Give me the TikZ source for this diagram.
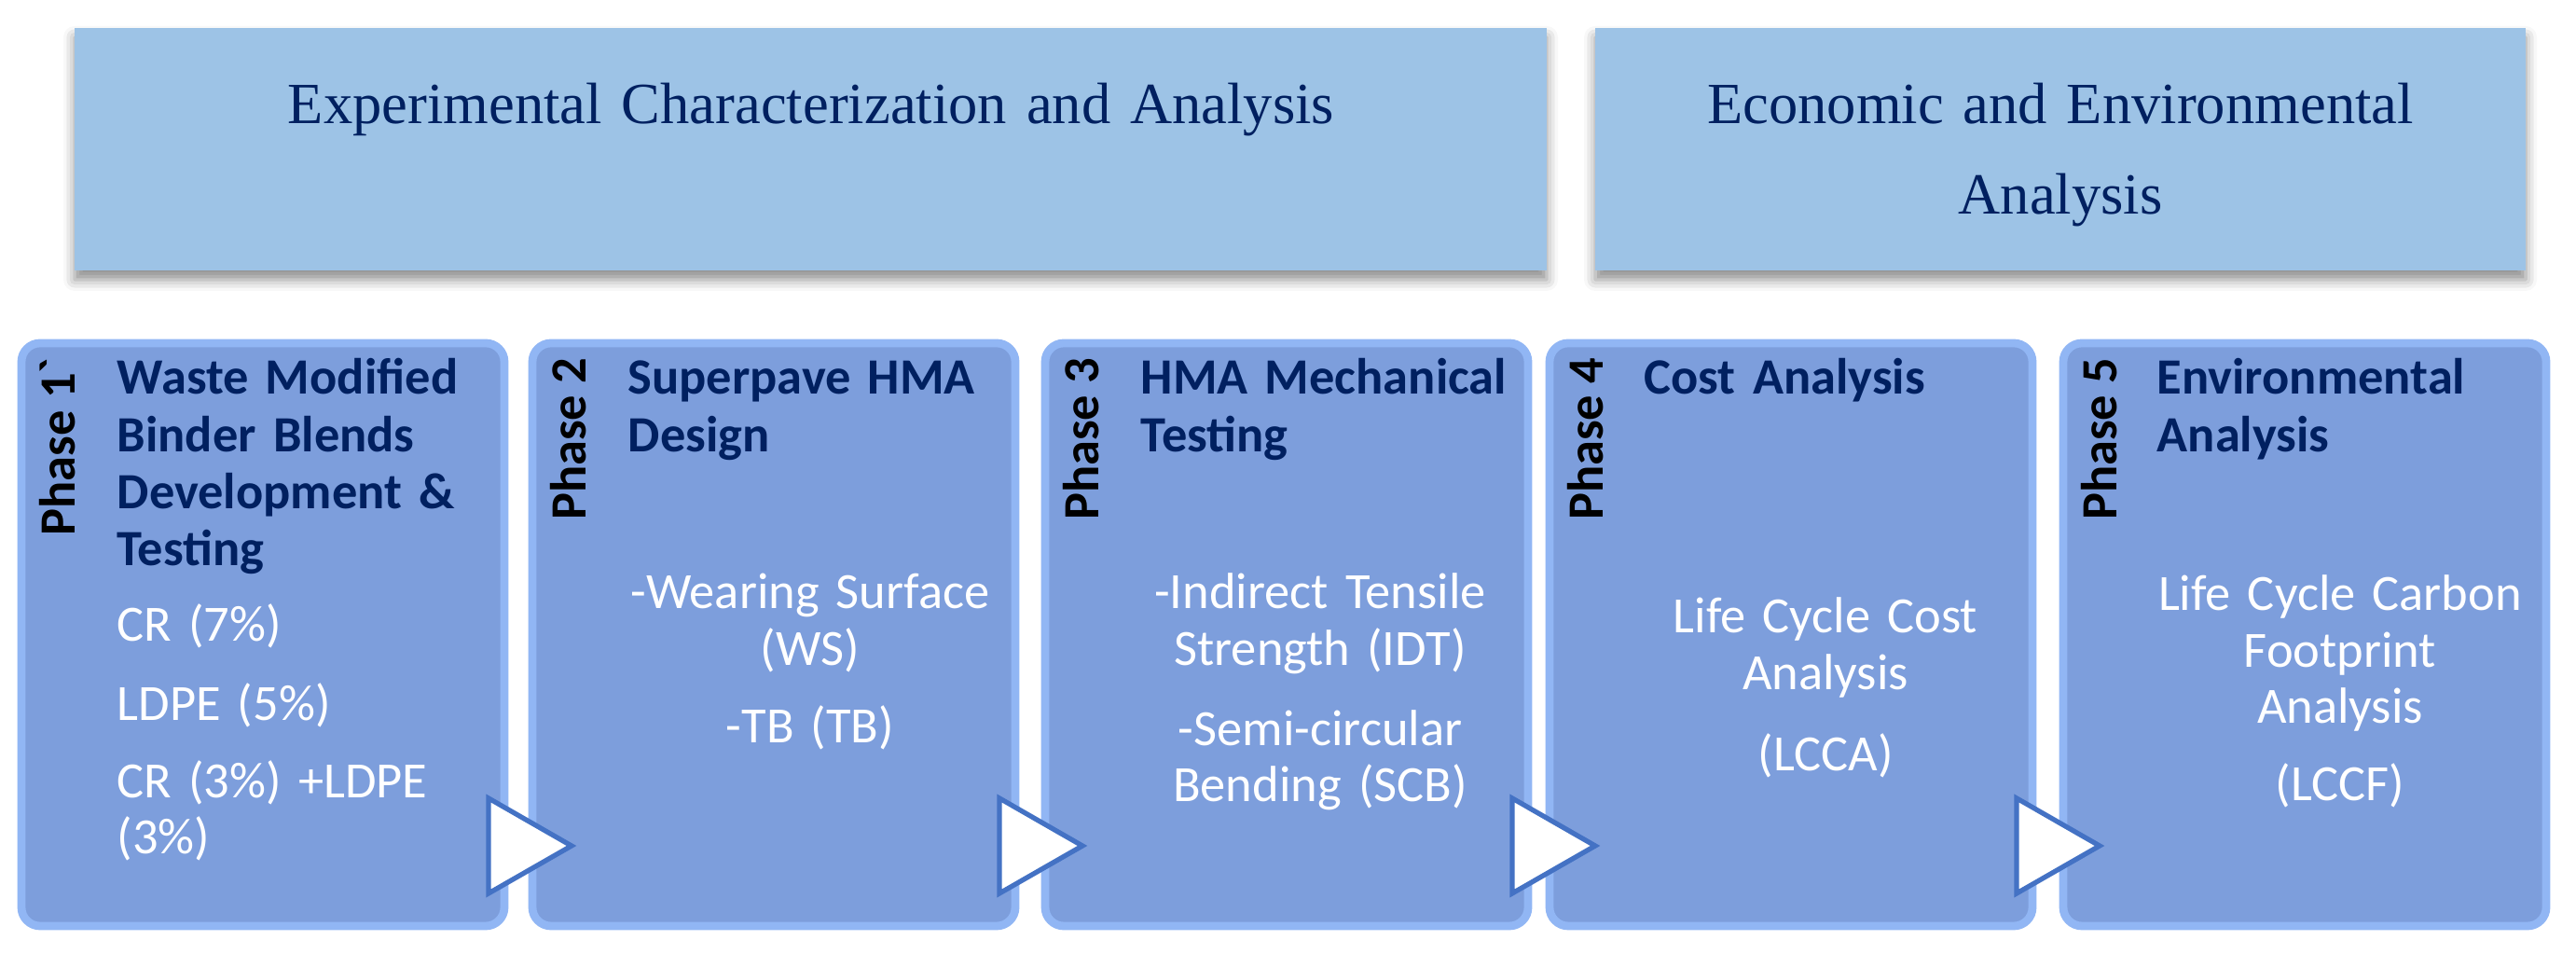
\documentclass[tikz,border=0pt]{standalone}
\usepackage{fontspec}
\setmainfont{Liberation Serif}
\newfontfamily\calibri{Carlito}
\usetikzlibrary{shadows.blur}
\definecolor{navy}{RGB}{0,32,96}
\definecolor{bandfill}{RGB}{157,195,230}
\definecolor{phasefill}{RGB}{125,158,220}
\definecolor{phaseedge}{RGB}{145,182,244}
\definecolor{tipedge}{RGB}{68,114,196}
\begin{document}
\begin{tikzpicture}[
  band/.style={rectangle, fill=bandfill, minimum height=2.6cm, anchor=north west, inner sep=0, outer sep=0,
    blur shadow={shadow xshift=0cm, shadow yshift=-0.1cm, shadow blur radius=0.12cm, shadow opacity=45}},
  bandtext/.style={font=\fontsize{17.8}{27.6}\selectfont, text=navy, text width=10cm, align=center, anchor=base, inner sep=0},
  phase/.style={rectangle, rounded corners=0.2cm, fill=phasefill, draw=phaseedge, line width=2.5pt,
    minimum width=5.18cm, minimum height=6.25cm, anchor=north west, inner sep=0, outer sep=0},
  phlabel/.style={font=\calibri\bfseries\fontsize{15.5}{16}\selectfont, rotate=90, anchor=base east, inner sep=0},
  phtitle/.style={font=\calibri\bfseries\fontsize{15.5}{17.4}\selectfont, text=navy, text width=4.2cm, align=left, anchor=base west, inner sep=0},
  phbody/.style={font=\calibri\fontsize{15.5}{17.1}\selectfont, text=white, text width=4.1cm, align=center, anchor=base, inner sep=0},
  nexttip/.style={fill=white, draw=tipedge, line width=1.5pt, line join=miter}
]
\useasboundingbox (0,0) rectangle (27.63,10.23) ;

\node [band, minimum width=15.79cm] (exp) at (0.80,9.93)  {} ;
\node [band, minimum width=9.98cm]  (eco) at (17.11,9.93) {} ;

\node [bandtext, text width=15cm] (exptext) at (8.70,8.90)  {Experimental Characterization and Analysis} ;
\node [bandtext]                  (ecotext) at (22.10,8.90) {Economic and Environmental\\Analysis} ;

\node [phase] (p1) at (0.23,6.55)  {} ;
\node [phase] (p2) at (5.71,6.55)  {} ;
\node [phase] (p3) at (11.21,6.55) {} ;
\node [phase] (p4) at (16.62,6.55) {} ;
\node [phase] (p5) at (22.13,6.55) {} ;

\node [phlabel] (l1) at ([xshift=0.57cm, yshift=-0.15cm]p1.north west) {Phase 1\textasciigrave} ;
\node [phlabel] (l2) at ([xshift=0.57cm, yshift=-0.15cm]p2.north west) {Phase 2} ;
\node [phlabel] (l3) at ([xshift=0.57cm, yshift=-0.15cm]p3.north west) {Phase 3} ;
\node [phlabel] (l4) at ([xshift=0.57cm, yshift=-0.15cm]p4.north west) {Phase 4} ;
\node [phlabel] (l5) at ([xshift=0.57cm, yshift=-0.15cm]p5.north west) {Phase 5} ;

\node [phtitle] (t1) at ([xshift=1.02cm, yshift=-0.55cm]p1.north west) {Waste Modified\\Binder Blends\\Development \&\\Testing} ;
\node [phtitle] (t2) at ([xshift=1.02cm, yshift=-0.55cm]p2.north west) {Superpave HMA\\Design} ;
\node [phtitle] (t3) at ([xshift=1.02cm, yshift=-0.55cm]p3.north west) {HMA Mechanical\\Testing} ;
\node [phtitle] (t4) at ([xshift=1.01cm, yshift=-0.55cm]p4.north west) {Cost Analysis} ;
\node [phtitle] (t5) at ([xshift=1.00cm, yshift=-0.55cm]p5.north west) {Environmental\\Analysis} ;

\node [phbody, align=left, anchor=base west] (b1) at ([xshift=1.02cm, yshift=-3.20cm]p1.north west) {CR (7\%)\\[0.24cm]LDPE (5\%)\\[0.23cm]CR (3\%) +LDPE\\(3\%)} ;
\node [phbody] (b2) at ([xshift=2.98cm, yshift=-2.85cm]p2.north west) {-Wearing Surface\\(WS)\\[0.23cm]-TB (TB)} ;
\node [phbody] (b3) at ([xshift=2.95cm, yshift=-2.85cm]p3.north west) {-Indirect Tensile\\Strength (IDT)\\[0.26cm]-Semi-circular\\Bending (SCB)} ;
\node [phbody] (b4) at ([xshift=2.96cm, yshift=-3.11cm]p4.north west) {Life Cycle Cost\\Analysis\\[0.27cm](LCCA)} ;
\node [phbody] (b5) at ([xshift=2.97cm, yshift=-2.87cm]p5.north west) {Life Cycle Carbon\\Footprint\\Analysis\\[0.23cm](LCCF)} ;

\draw [nexttip] ([xshift=-0.17cm, yshift=1.37cm]p1.south east) -- ++(0,-1.02) -- ++(0.89,0.51) -- cycle ;
\draw [nexttip] ([xshift=-0.17cm, yshift=1.37cm]p2.south east) -- ++(0,-1.02) -- ++(0.89,0.51) -- cycle ;
\draw [nexttip] ([xshift=-0.17cm, yshift=1.37cm]p3.south east) -- ++(0,-1.02) -- ++(0.89,0.51) -- cycle ;
\draw [nexttip] ([xshift=-0.17cm, yshift=1.37cm]p4.south east) -- ++(0,-1.02) -- ++(0.89,0.51) -- cycle ;

\end{tikzpicture}
\end{document}
